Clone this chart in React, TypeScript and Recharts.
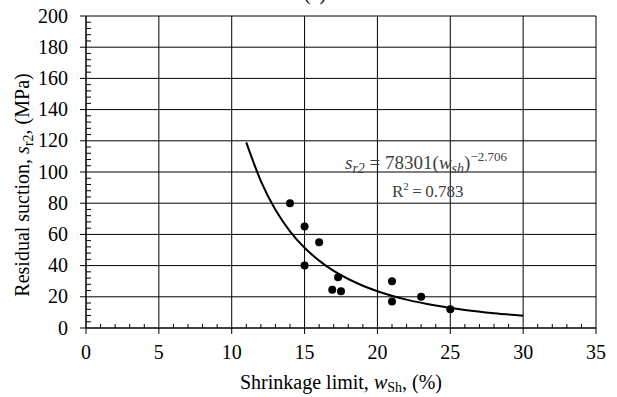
import React from 'react';
import { ComposedChart, XAxis, YAxis, CartesianGrid, Line, Scatter } from 'recharts';

const W = 617;
const H = 397;

// Major tick labels
const xMajorTicks = [0, 5, 10, 15, 20, 25, 30, 35];
const yMajorTicks = [0, 20, 40, 60, 80, 100, 120, 140, 160, 180, 200];
// Minor tick positions
const xAllTicks = Array.from({ length: 36 }, (_, i) => i);
const yAllTicks = Array.from({ length: 51 }, (_, i) => i * 4);

// Measured data (shrinkage limit %, residual suction MPa)
const measuredShrinkage = [14, 15, 15, 16, 17.3, 16.9, 17.5, 21, 21, 23, 25];
const measuredSuction = [80, 65, 40, 55, 32.5, 24.5, 23.5, 30, 17, 20, 12];

// Fitted power curve
const fitShrinkage = [11, 12, 13, 14, 15, 16, 17, 18, 19, 20, 22, 24, 26, 28, 30];
const fitSuction = [119, 94.2, 75.8, 62, 51.4, 43.2, 36.6, 31.4, 27.1, 23.6, 18.2, 14.4, 11.6, 9.5, 7.9];

const measured = measuredShrinkage.map((x, i) => ({ x, y: measuredSuction[i] }));
const fit = fitShrinkage.map((x, i) => ({ x, y: fitSuction[i] }));

const FONT = '"Liberation Serif", "Times New Roman", serif';

const XTick = (props: any) => {
  const { x, y, payload } = props;
  const v = payload.value;
  if (xMajorTicks.includes(v)) {
    return (
      <g>
        <line x1={x} x2={x} y1={y} y2={y + 6} stroke="#000" strokeWidth={1} />
        <text x={x} y={y + 31} textAnchor="middle" fontFamily={FONT} fontSize={20} fill="#000">
          {v}
        </text>
      </g>
    );
  }
  return <line x1={x} x2={x} y1={y} y2={y - 4} stroke="#000" strokeWidth={1} />;
};

const YTick = (props: any) => {
  const { x, y, payload } = props;
  const v = payload.value;
  if (yMajorTicks.includes(v)) {
    return (
      <g>
        <line x1={x} x2={x - 6} y1={y} y2={y} stroke="#000" strokeWidth={1} />
        <text x={x - 18} y={y + 6.5} textAnchor="end" fontFamily={FONT} fontSize={20} fill="#000">
          {v}
        </text>
      </g>
    );
  }
  return <line x1={x} x2={x + 5} y1={y} y2={y} stroke="#000" strokeWidth={1} />;
};

const Dot = (props: any) => {
  const { cx, cy } = props;
  return <circle cx={cx} cy={cy} r={4} fill="#000" />;
};

export default function App() {
  return (
    <div style={{ position: 'absolute', left: 0, top: 0, width: W, height: H, background: '#fff' }}>
      <ComposedChart width={W} height={H} margin={{ top: 16, right: 21, left: 0, bottom: 0 }}>
        <CartesianGrid
          stroke="#000"
          strokeWidth={1}
          verticalValues={xMajorTicks}
          horizontalValues={yMajorTicks}
        />
        <XAxis
          type="number"
          dataKey="x"
          domain={[0, 35]}
          ticks={xAllTicks}
          interval={0}
          tickSize={0}
          tickMargin={0}
          tickLine={false}
          tick={<XTick />}
          height={69}
          axisLine={{ stroke: '#000' }}
          allowDataOverflow
        />
        <YAxis
          type="number"
          dataKey="y"
          domain={[0, 200]}
          ticks={yAllTicks}
          interval={0}
          tickSize={0}
          tickMargin={0}
          tickLine={false}
          tick={<YTick />}
          width={86}
          axisLine={{ stroke: '#000' }}
          allowDataOverflow
        />
        <Line
          data={fit}
          dataKey="y"
          type="monotone"
          stroke="#000"
          strokeWidth={2}
          dot={false}
          isAnimationActive={false}
        />
        <Scatter data={measured} dataKey="y" shape={<Dot />} isAnimationActive={false} />
      </ComposedChart>
      <svg
        width={W}
        height={H}
        style={{ position: 'absolute', left: 0, top: 0, pointerEvents: 'none' }}
      >
        <text x={315} y={0} textAnchor="middle" fontFamily={FONT} fontSize={20} fill="#000">
          (a)
        </text>
        <text
          transform="translate(29,185) rotate(-90)"
          textAnchor="middle"
          fontFamily={FONT}
          fontSize={20}
          fill="#000"
        >
          Residual suction, <tspan fontStyle="italic">s</tspan>
          <tspan fontSize={14} dy={4}>r2</tspan>
          <tspan dy={-4}>, (MPa)</tspan>
        </text>
        <text x={341} y={389} textAnchor="middle" fontFamily={FONT} fontSize={20} fill="#000">
          Shrinkage limit, <tspan fontStyle="italic">w</tspan>
          <tspan fontSize={14} dy={3}>Sh</tspan>
          <tspan dy={-3}>, (%)</tspan>
        </text>
        <text x={345} y={169} fontFamily={FONT} fontSize={19} fill="#404040">
          <tspan fontStyle="italic">s</tspan>
          <tspan fontStyle="italic" fontSize={14} dy={4}>r2</tspan>
          <tspan dy={-4}> = 78301(</tspan>
          <tspan fontStyle="italic">w</tspan>
          <tspan fontStyle="italic" fontSize={14} dy={4}>sh</tspan>
          <tspan dy={-4}>)</tspan>
          <tspan fontSize={13} dy={-8}>−2.706</tspan>
        </text>
        <text x={392} y={197} fontFamily={FONT} fontSize={17} fill="#404040">
          R<tspan fontSize={11} dy={-7}>2</tspan>
          <tspan dy={7}>{'\u2009=\u20090.783'}</tspan>
        </text>
      </svg>
    </div>
  );
}
